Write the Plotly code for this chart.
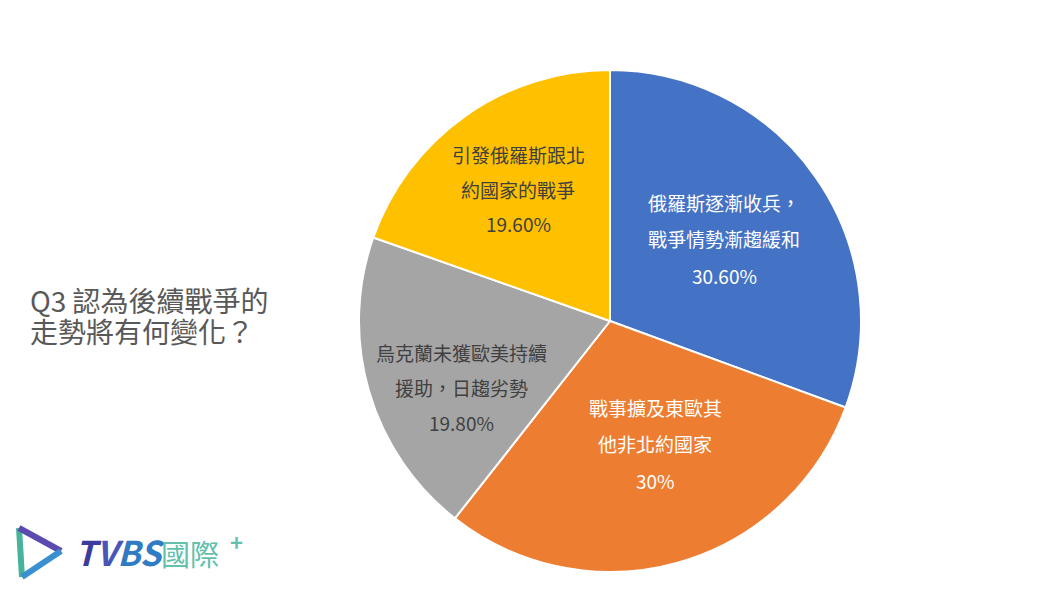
import plotly.graph_objects as go

categories = [["俄羅斯逐漸收兵，", "戰爭情勢漸趨緩和"], ["戰事擴及東歐其", "他非北約國家"],
              ["烏克蘭未獲歐美持續", "援助，日趨劣勢"], ["引發俄羅斯跟北", "約國家的戰爭"]]
values = [30.6, 30.0, 19.8, 19.6]
pct_labels = ["30.60%", "30%", "19.80%", "19.60%"]
colors = ["#4472C4", "#ED7D31", "#A5A5A5", "#FFC000"]
text_colors = ["white", "white", "#404040", "#404040"]

W, H = 1060, 596
OFF = 8  # page body margin
FONT = "Noto Sans CJK TC"


def px(x):
    return (x - OFF) / W


def py(y):
    return 1 - (y - OFF) / H


fig = go.Figure(go.Pie(
    labels=["".join(c) for c in categories], values=values, sort=False,
    direction="clockwise", rotation=0,
    marker=dict(colors=colors, line=dict(color="white", width=2)),
    textinfo="none", hoverinfo="label+percent", showlegend=False,
    domain=dict(x=[px(610 - 251), px(610 + 251)], y=[py(321 + 251), py(321 - 251)]),
))

# label line centres (page pixels): x, y of first line, line spacing
label_pos = [(724, 202, 36.5), (655, 407, 36.5), (461, 352, 35), (518, 155, 34.5)]
for cat, pct, (lx, ly, sp), tc in zip(categories, pct_labels, label_pos, text_colors):
    for i, line in enumerate(cat + [pct]):
        fig.add_annotation(x=px(lx), y=py(ly + i * sp), xref="paper", yref="paper",
                           xanchor="center", yanchor="middle",
                           text=line, showarrow=False,
                           font=dict(family=FONT, size=19, color=tc))

# title
for i, line in enumerate(["Q3 認為後續戰爭的", "走勢將有何變化？"]):
    fig.add_annotation(x=px(28), y=py(300 + i * 31), xref="paper", yref="paper",
                       xanchor="left", yanchor="middle", text=line, showarrow=False,
                       font=dict(family=FONT, size=28, color="#595959"))

# logo
def seg(x0, y0, x1, y1, color):
    fig.add_shape(type="line", xref="paper", yref="paper",
                  x0=px(x0), y0=py(y0), x1=px(x1), y1=py(y1),
                  line=dict(color=color, width=6))

seg(19, 528, 22, 577, "#47B39A")
seg(19, 528, 61, 551, "#5B4BB0")
seg(61, 551, 22, 577, "#3A8FD0")

fig.add_annotation(x=px(73), y=py(551), xref="paper", yref="paper",
                   xanchor="left", yanchor="middle",
                   text="<b><i><span style='color:#3B3C9E'>T</span><span style='color:#4A55B8'>V</span><span style='color:#2F7BC4'>BS</span></i></b><span style='font-size:29px;color:#62C0AC'>國際</span>",
                   showarrow=False, font=dict(family=FONT, size=34))
fig.add_annotation(x=px(236), y=py(541), xref="paper", yref="paper",
                   xanchor="center", yanchor="middle",
                   text="<b>+</b>", showarrow=False,
                   font=dict(family=FONT, size=22, color="#62C0AC"))

fig.update_layout(width=W, height=H, margin=dict(l=0, r=0, t=0, b=0),
                  paper_bgcolor="white", plot_bgcolor="white")
fig.write_html("out.html")
